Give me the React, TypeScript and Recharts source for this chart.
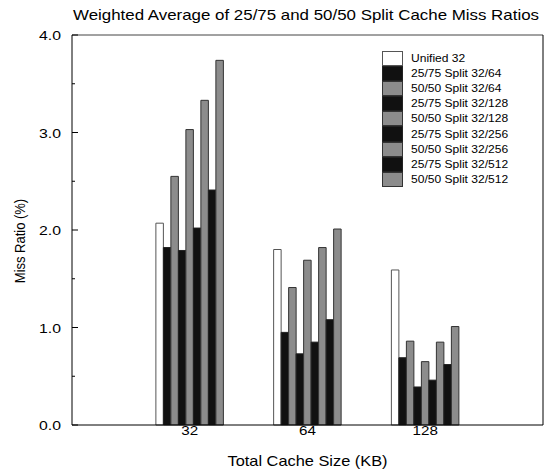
import React from 'react';
import { BarChart, Bar, XAxis, YAxis, Legend } from 'recharts';

const categories = ['32', '64', '128'];
const unified32 = [2.07, 1.8, 1.59];
const split25_64 = [1.82, 0.95, 0.69];
const split50_64 = [2.55, 1.41, 0.86];
const split25_128 = [1.79, 0.73, 0.39];
const split50_128 = [3.03, 1.69, 0.65];
const split25_256 = [2.02, 0.85, 0.46];
const split50_256 = [3.33, 1.82, 0.85];
const split25_512 = [2.41, 1.08, 0.62];
const split50_512 = [3.74, 2.01, 1.01];
const yTicks = [0, 0.5, 1, 1.5, 2, 2.5, 3, 3.5, 4];

const seriesDefs = [
  { key: 'u32', name: 'Unified 32', values: unified32, fill: '#ffffff', stroke: '#555555' },
  { key: 's25_64', name: '25/75 Split 32/64', values: split25_64, fill: '#111111', stroke: '#222222' },
  { key: 's50_64', name: '50/50 Split 32/64', values: split50_64, fill: '#8c8c8c', stroke: '#333333' },
  { key: 's25_128', name: '25/75 Split 32/128', values: split25_128, fill: '#111111', stroke: '#222222' },
  { key: 's50_128', name: '50/50 Split 32/128', values: split50_128, fill: '#8c8c8c', stroke: '#333333' },
  { key: 's25_256', name: '25/75 Split 32/256', values: split25_256, fill: '#111111', stroke: '#222222' },
  { key: 's50_256', name: '50/50 Split 32/256', values: split50_256, fill: '#8c8c8c', stroke: '#333333' },
  { key: 's25_512', name: '25/75 Split 32/512', values: split25_512, fill: '#111111', stroke: '#222222' },
  { key: 's50_512', name: '50/50 Split 32/512', values: split50_512, fill: '#8c8c8c', stroke: '#333333' },
];

const data = categories.map((c, i) => {
  const row: any = { cat: c };
  seriesDefs.forEach((s) => {
    row[s.key] = s.values[i];
  });
  return row;
});

const FONT = '"Liberation Sans", Arial, Helvetica, sans-serif';
const SX = 1.17;

const YTick = (props: any) => {
  const { x, y, payload } = props;
  const v = payload.value;
  const major = Math.abs(v - Math.round(v)) < 1e-6;
  const ax = x + 11;
  return (
    <g>
      <line x1={ax} x2={ax + (major ? 6 : 3)} y1={y} y2={y} stroke="#000" strokeWidth={1} />
      {major && (
        <text
          transform={`translate(${x},${y + 5}) scale(${SX},1)`}
          textAnchor="end"
          fontSize={13.5}
          fontFamily={FONT}
          fill="#000"
        >
          {v.toFixed(1)}
        </text>
      )}
    </g>
  );
};

const XTick = (props: any) => {
  const { x, y, payload } = props;
  return (
    <text
      transform={`translate(${x},${y + 9.5}) scale(${SX},1)`}
      textAnchor="middle"
      fontSize={13}
      fontFamily={FONT}
      fill="#000"
    >
      {payload.value}
    </text>
  );
};

const LegendContent = () => (
  <div style={{ fontFamily: FONT, fontSize: 10.3, color: '#000', lineHeight: '15px' }}>
    {seriesDefs.map((s) => (
      <div key={s.key} style={{ display: 'flex', alignItems: 'center', height: 15.1 }}>
        <div
          style={{
            width: 21,
            height: 15.1,
            boxSizing: 'border-box',
            background: s.fill,
            border: `1px solid ${s.stroke}`,
            flex: 'none',
          }}
        />
        <span
          style={{
            marginLeft: 8,
            whiteSpace: 'nowrap',
            display: 'inline-block',
            transform: `scaleX(${SX})`,
            transformOrigin: 'left center',
          }}
        >
          {s.name}
        </span>
      </div>
    ))}
  </div>
);

export default function App() {
  return (
    <div style={{ position: 'absolute', left: 0, top: 0, width: 544, height: 469, background: '#fff' }}>
      <BarChart
        width={544}
        height={469}
        data={data}
        margin={{ top: 34, right: 0, bottom: 0, left: 0 }}
        barGap={0}
        barSize={7.5}
        style={{ fontFamily: FONT }}
      >
        <XAxis
          dataKey="cat"
          height={44}
          padding={{ left: 58.875, right: 58.875 }}
          tickLine={false}
          tickSize={0}
          tickMargin={0}
          axisLine={{ stroke: '#000', strokeWidth: 1 }}
          tick={<XTick />}
          interval={0}
        />
        <XAxis
          xAxisId="top"
          dataKey="cat"
          orientation="top"
          height={1}
          tick={false}
          tickLine={false}
          axisLine={{ stroke: '#444', strokeWidth: 1 }}
        />
        <YAxis
          domain={[0, 4]}
          ticks={yTicks}
          interval={0}
          width={72}
          tickSize={0}
          tickMargin={11}
          tickLine={false}
          tick={<YTick />}
          axisLine={{ stroke: '#000', strokeWidth: 1 }}
        />
        <YAxis
          yAxisId="right"
          orientation="right"
          domain={[0, 4]}
          type="number"
          width={1}
          ticks={[]}
          tick={false}
          tickLine={false}
          axisLine={{ stroke: '#000', strokeWidth: 1 }}
        />
        <Legend
          layout="horizontal"
          verticalAlign="middle"
          align="center"
          content={<LegendContent />}
          wrapperStyle={{ top: 51, left: 382, right: 'auto', bottom: 'auto', width: 160 }}
        />
        {seriesDefs.map((s) => (
          <Bar
            key={s.key}
            dataKey={s.key}
            name={s.name}
            fill={s.fill}
            stroke={s.stroke}
            strokeWidth={1}
            isAnimationActive={false}
          />
        ))}
      </BarChart>
      <svg width={544} height={469} style={{ position: 'absolute', left: 0, top: 0, pointerEvents: 'none' }}>
        <text
          x={306}
          y={19.5}
          textAnchor="middle"
          fontSize={14.4}
          fontFamily={FONT}
          fill="#000"
          textLength={466}
          lengthAdjust="spacingAndGlyphs"
        >
          Weighted Average of 25/75 and 50/50 Split Cache Miss Ratios
        </text>
        <text
          transform={`translate(25,241) scale(${SX},1) rotate(-90)`}
          textAnchor="middle"
          fontSize={13}
          fontFamily={FONT}
          fill="#000"
        >
          Miss Ratio (%)
        </text>
        <text
          transform={`translate(307.5,466) scale(${SX},1)`}
          textAnchor="middle"
          fontSize={14}
          fontFamily={FONT}
          fill="#000"
        >
          Total Cache Size (KB)
        </text>
      </svg>
    </div>
  );
}
